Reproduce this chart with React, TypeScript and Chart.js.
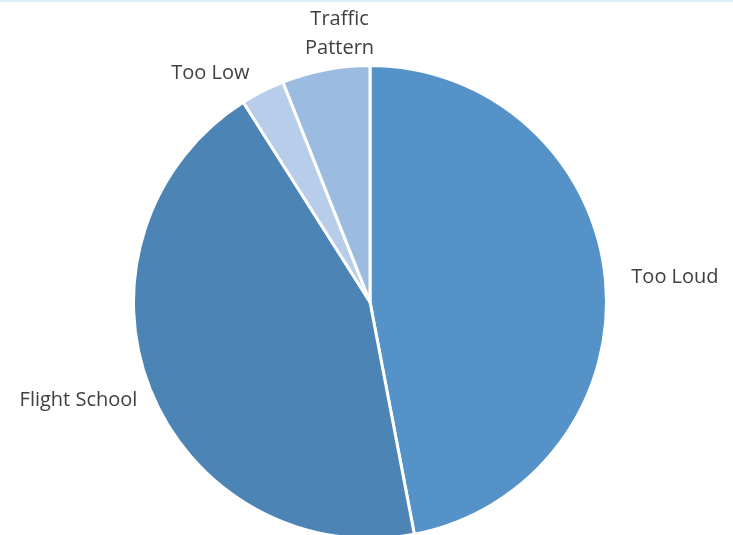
import React, { useEffect, useRef } from "react";
import { Chart, registerables } from "chart.js";

Chart.register(...registerables);

const categories = ["Too Loud", "Flight School", "Too Low", "Traffic Pattern"];
const labelLines = [["Too Loud"], ["Flight School"], ["Too Low"], ["Traffic", "Pattern"]];
const values = [47, 44, 3, 6];
const colors = ["#5592C8", "#4C84B5", "#B8CDE9", "#9BBBE0"];
// label placement: radial distance beyond the arc, and nudges
const labelDist = [26, 18, 20, 22];
const labelNudgeX = [0, 4, -4, 18];
const labelNudgeY = [0, 5, 0, 0];

const labelPlugin = {
  id: "outsideLabels",
  afterDatasetsDraw(chart: any) {
    const ctx = chart.ctx;
    const meta = chart.getDatasetMeta(0);
    ctx.save();
    ctx.font = '20px "Open Sans"';
    ctx.fillStyle = "#404040";
    ctx.textBaseline = "middle";
    meta.data.forEach((arc: any, i: number) => {
      const p = arc.getProps(["x", "y", "startAngle", "endAngle", "outerRadius"], true);
      const mid = (p.startAngle + p.endAngle) / 2;
      const r = p.outerRadius + labelDist[i];
      const cx = Math.cos(mid);
      const px = p.x + cx * r + labelNudgeX[i];
      const py = p.y + Math.sin(mid) * r + labelNudgeY[i];
      ctx.textAlign = cx > 0.3 ? "left" : cx < -0.3 ? "right" : "center";
      const lines = labelLines[i];
      const lh = 29;
      lines.forEach((ln, k) => {
        const y = py - (lines.length - 1 - k) * lh;
        ctx.fillText(ln, px, y);
      });
    });
    ctx.restore();
  },
};

export default function App() {
  const ref = useRef<HTMLCanvasElement>(null);
  useEffect(() => {
    document.body.style.margin = "0";
    const chart = new Chart(ref.current!, {
      type: "pie",
      data: {
        labels: categories,
        datasets: [
          {
            data: values,
            backgroundColor: colors,
            borderColor: "#ffffff",
            borderWidth: 3,
          },
        ],
      },
      options: {
        responsive: false,
        animation: false,
        layout: { padding: { top: 64, bottom: 0, left: 132, right: 125 } },
        plugins: { legend: { display: false }, tooltip: { enabled: false } },
      },
      plugins: [labelPlugin],
    });
    return () => chart.destroy();
  }, []);
  return (
    <div style={{ position: "relative", width: 733, height: 535, overflow: "hidden", background: "#fff" }}>
      <div style={{ position: "absolute", top: 0, left: 0, width: 733, height: 2, background: "#DCEFF6" }} />
      <canvas ref={ref} width={733} height={540} style={{ display: "block" }} />
    </div>
  );
}
